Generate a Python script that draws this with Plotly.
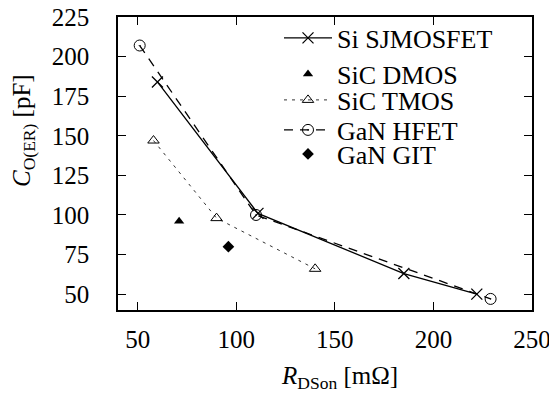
import plotly.graph_objects as go

si_x = [60, 111, 185, 222]
si_y = [184, 101, 63, 50]
dmos_x = [71]
dmos_y = [96]
tmos_x = [58, 90, 140]
tmos_y = [147, 98, 66]
hfet_x = [51, 110, 229]
hfet_y = [207, 100, 47]
git_x = [96]
git_y = [80]

x_ticks = [50, 100, 150, 200, 250]
y_ticks = [50, 75, 100, 125, 150, 175, 200, 225]

FONT = "Liberation Serif"
FS = 25
LFS = 26
# page body has an 8px margin, so the figure starts at (8, 8) on screen
OFF = 8
W, H = 557 - OFF, 394 - OFF
PL, PR, PT, PB = 118, 532, 17, 310  # plot area in screen pixels
L, R, T, B = PL - OFF, W - (PR - OFF), PT - OFF, H - (PB - OFF)
PW, PH = PR - PL, PB - PT


def px_x(p):
    return (p - PL) / PW


def px_y(p):
    return (PB - p) / PH


fig = go.Figure()
fig.add_trace(go.Scatter(x=si_x, y=si_y, name="Si SJMOSFET", mode="lines+markers", legend="legend",
                         line=dict(color="black", width=1.3),
                         marker=dict(symbol="x-thin", size=11, line=dict(color="black", width=1.3))))
fig.add_trace(go.Scatter(x=dmos_x, y=dmos_y, name="SiC DMOS", mode="markers", legend="legend2",
                         marker=dict(symbol="triangle-up", size=9, color="black")))
fig.add_trace(go.Scatter(x=tmos_x, y=tmos_y, name="SiC TMOS", mode="lines+markers", legend="legend3",
                         line=dict(color="#333", width=1, dash="3px,5px"),
                         marker=dict(symbol="triangle-up-open", size=10, color="black", line=dict(width=1))))
fig.add_trace(go.Scatter(x=hfet_x, y=hfet_y, name="GaN HFET", mode="lines+markers", legend="legend4",
                         line=dict(color="black", width=1.3, dash="9px,7px"),
                         marker=dict(symbol="circle-open-dot", size=11, color="black", line=dict(width=1))))
fig.add_trace(go.Scatter(x=git_x, y=git_y, name="GaN GIT", mode="markers", legend="legend5",
                         marker=dict(symbol="diamond", size=9, color="black")))

axis_common = dict(showline=True, linecolor="black", linewidth=1.5, mirror="ticks",
                   ticks="inside", ticklen=8, tickwidth=1, tickcolor="black",
                   ticklabeloverflow="allow",
                   showgrid=False, zeroline=False, tickfont=dict(family=FONT, size=FS, color="black"))
fig.update_xaxes(range=[40, 250], tickvals=x_ticks, ticklabelstandoff=6, **axis_common)
fig.update_yaxes(range=[40, 225], tickvals=y_ticks, ticklabelstandoff=22, **axis_common)

fig.add_annotation(text="<i>R</i><sub>DSon</sub> [mΩ]", xref="paper", yref="paper",
                   x=px_x(339), y=px_y(377), showarrow=False,
                   font=dict(family=FONT, size=FS, color="black"), xanchor="center", yanchor="middle")
fig.add_annotation(text="<i>C</i><sub>O(ER)</sub> [pF]", xref="paper", yref="paper",
                   x=px_x(23), y=px_y(131), showarrow=False, textangle=-90,
                   font=dict(family=FONT, size=FS, color="black"), xanchor="center", yanchor="middle")

row_centers = [38, 74, 100, 130, 154]
legend_common = dict(xanchor="left", yanchor="middle", bgcolor="rgba(0,0,0,0)", itemwidth=48,
                     font=dict(family=FONT, size=LFS, color="black"))
legends = {}
for i, yc in enumerate(row_centers):
    key = "legend" if i == 0 else f"legend{i + 1}"
    legends[key] = dict(x=px_x(279), y=px_y(yc), **legend_common)

fig.update_layout(
    width=W, height=H, margin=dict(l=L, r=R, t=T, b=B, autoexpand=False),
    paper_bgcolor="white", plot_bgcolor="white",
    font=dict(family=FONT, size=FS, color="black"),
    showlegend=True,
    **legends,
)
fig.write_html("out.html")
